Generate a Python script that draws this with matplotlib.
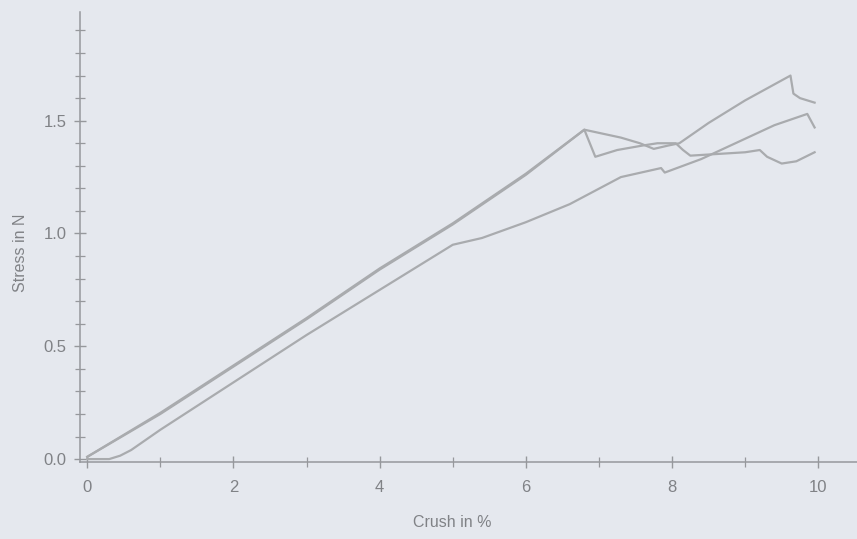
import numpy as np
import matplotlib.pyplot as plt
from matplotlib.ticker import MultipleLocator

plt.rcParams.update({
    "font.family": "sans-serif",
    "font.sans-serif": ["Liberation Sans", "DejaVu Sans"],
    "font.size": 12,
})

BG = '#e5e8ee'
LINE = '#a9abae'
AXIS = '#96989c'
TEXT = '#808286'

# sample A: linear rise to the 6.8 % peak, sharp drop, ends near 1.36
crush_a = [0, 1, 2, 3, 4, 5, 6, 6.8, 6.95, 7.25, 7.6, 7.8, 8.05, 8.15, 8.25,
           8.5, 9.0, 9.2, 9.3, 9.5, 9.7, 9.95]
stress_a = [0.01, 0.20, 0.41, 0.62, 0.84, 1.04, 1.26, 1.46, 1.34, 1.37, 1.39, 1.40,
            1.40, 1.37, 1.345, 1.35, 1.36, 1.37, 1.34, 1.31, 1.32, 1.36]

# sample B: same rise, slow decline, then up to 1.70 near 9.6 %
crush_b = [0, 1, 2, 3, 4, 5, 6, 6.8, 7.3, 7.56, 7.75, 7.95, 8.1, 8.5, 9.0,
           9.62, 9.66, 9.75, 9.95]
stress_b = [0.01, 0.205, 0.415, 0.625, 0.845, 1.045, 1.265, 1.46, 1.425, 1.40, 1.375,
            1.39, 1.40, 1.49, 1.59, 1.70, 1.62, 1.60, 1.58]

# sample C: delayed start, softer after 5 %
crush_c = [0, 0.3, 0.45, 0.6, 1, 2, 3, 4, 5, 5.4, 6, 6.6, 7.3, 7.85, 7.9, 8.4,
           9.0, 9.4, 9.85, 9.95]
stress_c = [0.0, 0.0, 0.015, 0.04, 0.13, 0.34, 0.55, 0.75, 0.95, 0.98, 1.05, 1.13, 1.25,
            1.29, 1.27, 1.33, 1.42, 1.48, 1.53, 1.47]

fig = plt.figure(figsize=(8.57, 5.39), dpi=100, facecolor=BG)
ax = fig.add_axes([0.0933, 0.142, 0.9067, 0.835], facecolor=BG)

for x, y in [(crush_a, stress_a), (crush_b, stress_b), (crush_c, stress_c)]:
    ax.plot(x, y, '-', color=LINE, lw=1.6)

ax.set_xlim(-0.1, 10.53)
ax.set_ylim(-0.015, 1.98)

for s in ['top', 'right']:
    ax.spines[s].set_visible(False)
for s in ['left', 'bottom']:
    ax.spines[s].set_color(AXIS)
    ax.spines[s].set_linewidth(1.1)

ax.xaxis.set_major_locator(MultipleLocator(2))
ax.xaxis.set_minor_locator(MultipleLocator(1))
ax.yaxis.set_major_locator(MultipleLocator(0.5))
ax.yaxis.set_minor_locator(MultipleLocator(0.1))
ax.yaxis.set_major_formatter(lambda v, p: f'{v:.1f}')

ax.tick_params(which='major', direction='inout', length=9, width=1.0, color=AXIS,
               labelcolor=TEXT, labelsize=12)
ax.tick_params(axis='x', which='major', pad=8)
ax.tick_params(axis='y', which='major', pad=5)
ax.tick_params(which='minor', direction='inout', length=7, width=0.9, color=AXIS)

ax.set_xlabel('Crush in %', color=TEXT, fontsize=11.5)
ax.set_ylabel('Stress in N', color=TEXT, fontsize=11.5)
ax.xaxis.set_label_coords(0.479, -0.117)
ax.yaxis.set_label_coords(-0.067, 0.465)

fig.savefig('out.png', dpi=100, facecolor=BG)
